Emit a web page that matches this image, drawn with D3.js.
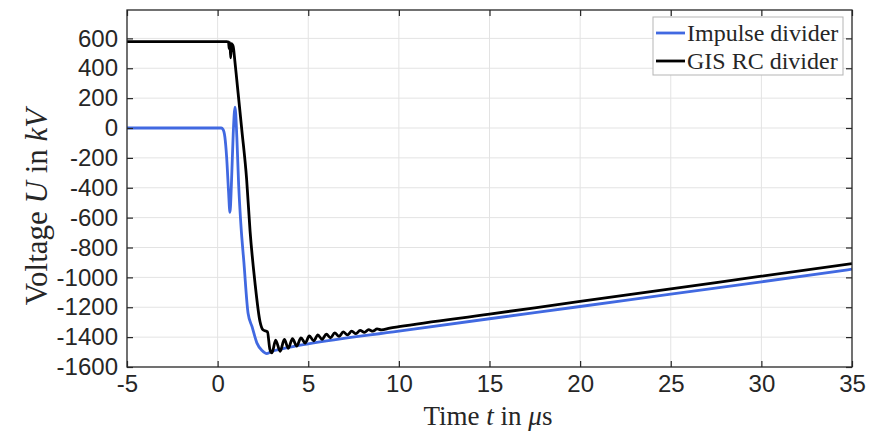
<!DOCTYPE html>
<html>
<head>
<meta charset="utf-8">
<script src="https://cdn.jsdelivr.net/npm/d3@7"></script>
<style>
  body { margin: 0; background: #fff; }
  svg { display: block; }
</style>
</head>
<body>
<div id="chart"></div>
<script>
// time axis in microseconds, voltage in kV
var xTicks = [-5, 0, 5, 10, 15, 20, 25, 30, 35];
var yTicks = [-1600, -1400, -1200, -1000, -800, -600, -400, -200, 0, 200, 400, 600];

// Impulse divider (blue)
var impulseT = [-5, 0.2, 0.3, 0.4, 0.5, 0.6, 0.68, 0.76, 0.86, 0.96, 1.06, 1.16, 1.28, 1.45, 1.68, 1.9, 2.17, 2.45, 2.72, 3.0, 3.5, 4.0, 5, 10, 15, 20, 25, 30, 35];
var impulseU = [0, 0, -10, -60, -200, -420, -565, -380, -40, 140, -60, -380, -640, -900, -1240, -1330, -1440, -1490, -1510, -1495, -1480, -1467, -1445, -1360, -1277, -1195, -1112, -1030, -945];

// GIS RC divider (black)
var rcT = [-5, 0.5, 0.6, 0.64, 0.68, 0.72, 0.76, 0.8, 0.86, 0.95, 1.05, 1.33, 1.6, 1.79, 2.06, 2.34, 2.5, 2.75, 2.88, 3.0,
           3.2, 3.45, 3.68, 3.9, 4.13, 4.36, 4.6, 4.83, 5.06, 5.3, 5.53, 5.76, 6.0, 6.23, 6.46, 6.7, 6.93, 7.16, 7.4, 7.63, 7.86, 8.1, 8.33, 8.56, 8.8, 9.03,
           9.5, 10, 15, 20, 25, 30, 35];
var rcU = [578, 578, 575, 530, 572, 470, 565, 560, 545, 450, 330, -7, -343, -690, -1035, -1297, -1351, -1365, -1480, -1506,
           -1420, -1495, -1415, -1475, -1410, -1460, -1405, -1440, -1392, -1425, -1385, -1415, -1380, -1405, -1372, -1395, -1365, -1385, -1360, -1377, -1355, -1368, -1350, -1360, -1345, -1352,
           -1340, -1330, -1246, -1161, -1077, -992, -908];

var W = 891, H = 431;
// plot box edges (pixels)
var pLeft = 127, pRight = 852, pTop = 10, pBottom = 367;

var svg = d3.select("#chart").append("svg")
  .attr("width", W)
  .attr("height", H);

var x = d3.scaleLinear().domain([-5, 35]).range([pLeft, pRight]);
var y = d3.scaleLinear().domain([-1600, 790]).range([pBottom, pTop]);

// grid
var grid = svg.append("g").attr("stroke", "#e3e3e3").attr("stroke-width", 1);
grid.selectAll(".gx").data(xTicks.slice(1, -1)).enter().append("line")
  .attr("x1", function(d){ return x(d); }).attr("x2", function(d){ return x(d); })
  .attr("y1", pTop).attr("y2", pBottom);
grid.selectAll(".gy").data(yTicks.slice(1)).enter().append("line")
  .attr("y1", function(d){ return y(d); }).attr("y2", function(d){ return y(d); })
  .attr("x1", pLeft).attr("x2", pRight);

// curves
svg.append("clipPath").attr("id", "clip").append("rect")
  .attr("x", pLeft).attr("y", pTop).attr("width", pRight - pLeft).attr("height", pBottom - pTop);

var line = d3.line()
  .x(function(d){ return x(d[0]); })
  .y(function(d){ return y(d[1]); })
  .curve(d3.curveMonotoneX);

var plot = svg.append("g").attr("clip-path", "url(#clip)");
plot.append("path")
  .datum(d3.zip(impulseT, impulseU))
  .attr("d", line)
  .attr("fill", "none").attr("stroke", "#4169e1").attr("stroke-width", 2.8).attr("stroke-linejoin", "round");
plot.append("path")
  .datum(d3.zip(rcT, rcU))
  .attr("d", line)
  .attr("fill", "none").attr("stroke", "#000").attr("stroke-width", 2.8).attr("stroke-linejoin", "round");

// axes, ticks inside on all four sides
var tickFont = "'Liberation Sans', Arial, sans-serif";
var plain = function(d){ return String(d); };
var axB = svg.append("g").attr("transform", "translate(0," + pBottom + ")")
  .call(d3.axisBottom(x).tickValues(xTicks).tickFormat(plain).tickSizeInner(-6).tickSizeOuter(0).tickPadding(8));
var axT = svg.append("g").attr("transform", "translate(0," + pTop + ")")
  .call(d3.axisTop(x).tickValues(xTicks).tickSizeInner(-6).tickSizeOuter(0).tickFormat(""));
var axL = svg.append("g").attr("transform", "translate(" + pLeft + ",0)")
  .call(d3.axisLeft(y).tickValues(yTicks).tickFormat(plain).tickSizeInner(-6).tickSizeOuter(0).tickPadding(9));
var axR = svg.append("g").attr("transform", "translate(" + pRight + ",0)")
  .call(d3.axisRight(y).tickValues(yTicks).tickSizeInner(-6).tickSizeOuter(0).tickFormat(""));

[axB, axT, axL, axR].forEach(function(a){
  a.select(".domain").remove();
  a.selectAll(".tick line").attr("stroke", "#262626").attr("stroke-width", 1.2);
  a.selectAll(".tick text").attr("fill", "#262626").style("font-family", tickFont).style("font-size", "24px");
});
axB.selectAll(".tick text").attr("dy", "0.72em");

svg.append("rect")
  .attr("x", pLeft).attr("y", pTop).attr("width", pRight - pLeft).attr("height", pBottom - pTop)
  .attr("fill", "none").attr("stroke", "#262626").attr("stroke-width", 1.3);

// axis titles
var serif = "'Liberation Serif', 'Times New Roman', serif";
var xt = svg.append("text")
  .attr("x", 488).attr("y", 425)
  .attr("text-anchor", "middle")
  .style("font-family", serif).style("font-size", "27px").attr("fill", "#262626");
xt.append("tspan").text("Time ");
xt.append("tspan").style("font-style", "italic").text("t");
xt.append("tspan").text(" in ");
xt.append("tspan").style("font-style", "italic").text("\u03bc");
xt.append("tspan").text("s");

var yt = svg.append("text")
  .attr("transform", "translate(47,207) rotate(-90)")
  .attr("text-anchor", "middle")
  .style("font-family", serif).style("font-size", "31px").attr("fill", "#262626");
yt.append("tspan").text("Voltage ");
yt.append("tspan").style("font-style", "italic").text("U");
yt.append("tspan").text(" in ");
yt.append("tspan").style("font-style", "italic").text("kV");

// legend
var legendNames = ["Impulse divider", "GIS RC divider"];
var legendColors = ["#4169e1", "#000"];
var lg = svg.append("g");
lg.append("rect")
  .attr("x", 653).attr("y", 17).attr("width", 190).attr("height", 58)
  .attr("fill", "#fff").attr("stroke", "#b5b5b5").attr("stroke-width", 1);
var item = lg.selectAll(".item").data(legendNames).enter().append("g")
  .attr("transform", function(d, i){ return "translate(0," + (33 + i * 28) + ")"; });
item.append("line")
  .attr("x1", 656).attr("x2", 685)
  .attr("stroke", function(d, i){ return legendColors[i]; })
  .attr("stroke-width", 2.8);
item.append("text")
  .attr("x", 687).attr("dy", "0.35em")
  .style("font-family", serif).style("font-size", "24px").attr("fill", "#262626")
  .text(function(d){ return d; });
</script>
</body>
</html>
